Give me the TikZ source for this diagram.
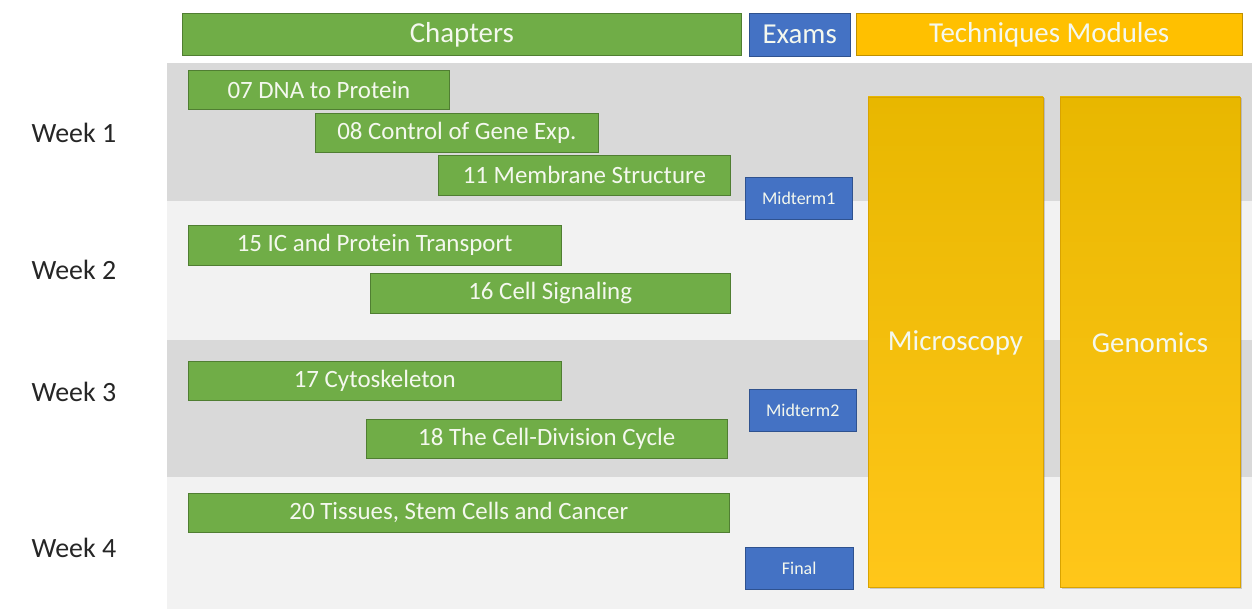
\documentclass[tikz,border=0pt]{standalone}
\usepackage{fontspec}
\setmainfont{Carlito}
\usetikzlibrary{shadows}
\definecolor{grn}{HTML}{70AD47}
\definecolor{grnb}{HTML}{507E32}
\definecolor{blu}{HTML}{4472C4}
\definecolor{blub}{HTML}{2F528F}
\definecolor{ylw}{HTML}{FFC000}
\definecolor{ylwtop}{HTML}{E8B700}
\definecolor{ylwb}{HTML}{BF9000}
\definecolor{bandA}{HTML}{D9D9D9}
\definecolor{bandB}{HTML}{F2F2F2}
\definecolor{txt}{HTML}{F4F8EE}
\tikzset{
  px/.style={x=1bp,y=-1bp},
  box/.style={draw, line width=0.8bp, inner sep=0pt, text=txt},
  chap/.style={box, fill=grn, draw=grnb, font=\fontsize{25}{30}\selectfont},
  exam/.style={box, fill=blu, draw=blub, font=\fontsize{18}{21}\selectfont},
  hdr/.style={font=\fontsize{29}{34}\selectfont},
  module/.style={inner sep=0pt, top color=ylwtop, bottom color=ylw!90!white, draw=ylwb!60!ylw, line width=0.4bp,
     drop shadow={shadow xshift=1.5bp, shadow yshift=-1.5bp, opacity=0.35}},
  week/.style={anchor=west, font=\fontsize{28}{33}\selectfont, text=black!85},
}
\newcommand{\bx}[5]{\node[#1, minimum width=#4-#2, minimum height=#5-#3, anchor=north west] at (#2,#3)}
\begin{document}
\begin{tikzpicture}[px]
\useasboundingbox (0,0) rectangle (1252,609);
\fill[white] (0,0) rectangle (1252,609);
% bands
\fill[bandA] (167,63) rectangle (1252,201);
\fill[bandB] (167,201) rectangle (1252,340);
\fill[bandA] (167,340) rectangle (1252,477);
\fill[bandB] (167,477) rectangle (1252,609);
% headers
\bx{box, fill=grn, draw=grnb, hdr}{182}{13}{743}{55} (hchap) {Chapters};
\bx{box, fill=blu, draw=blub, hdr}{749}{13}{850}{56} (hexam) {Exams};
\bx{box, fill=ylw, draw=ylwb, hdr}{856}{13}{1243}{55} (htech) {Techniques Modules};
% week labels
\node[week] (w1) at (28,133) {Week 1};
\node[week] (w2) at (28,270) {Week 2};
\node[week] (w3) at (28,392) {Week 3};
\node[week] (w4) at (28,548) {Week 4};
% chapters
\bx{chap}{188}{70}{450}{109} (c07) {07 DNA to Protein};
\bx{chap}{315}{113}{599}{152} (c08) {08 Control of Gene Exp.};
\bx{chap}{438}{155}{731}{195} (c11) {11 Membrane Structure};
\bx{chap}{188}{225}{562}{265} (c15) {15 IC and Protein Transport};
\bx{chap}{370}{273}{731}{313} (c16) {16 Cell Signaling};
\bx{chap}{188}{361}{562}{400} (c17) {17 Cytoskeleton};
\bx{chap}{366}{419}{728}{458} (c18) {18 The Cell-Division Cycle};
\bx{chap}{188}{493}{731}{532} (c20) {20 Tissues, Stem Cells and Cancer};
% exams
\bx{exam}{745}{177}{852}{219} (m1) {Midterm1};
\bx{exam}{749}{389}{856}{431} (m2) {Midterm2};
\bx{exam}{745}{547}{853}{589} (fin) {Final};
% modules
\path[module] (868,97) rectangle (1043,587);
\node[text=txt, hdr] (micro) at (955.5,343) {Microscopy};
\path[module] (1060,97) rectangle (1240,587);
\node[text=txt, hdr] (geno) at (1150,343) {Genomics};
\end{tikzpicture}
\end{document}
